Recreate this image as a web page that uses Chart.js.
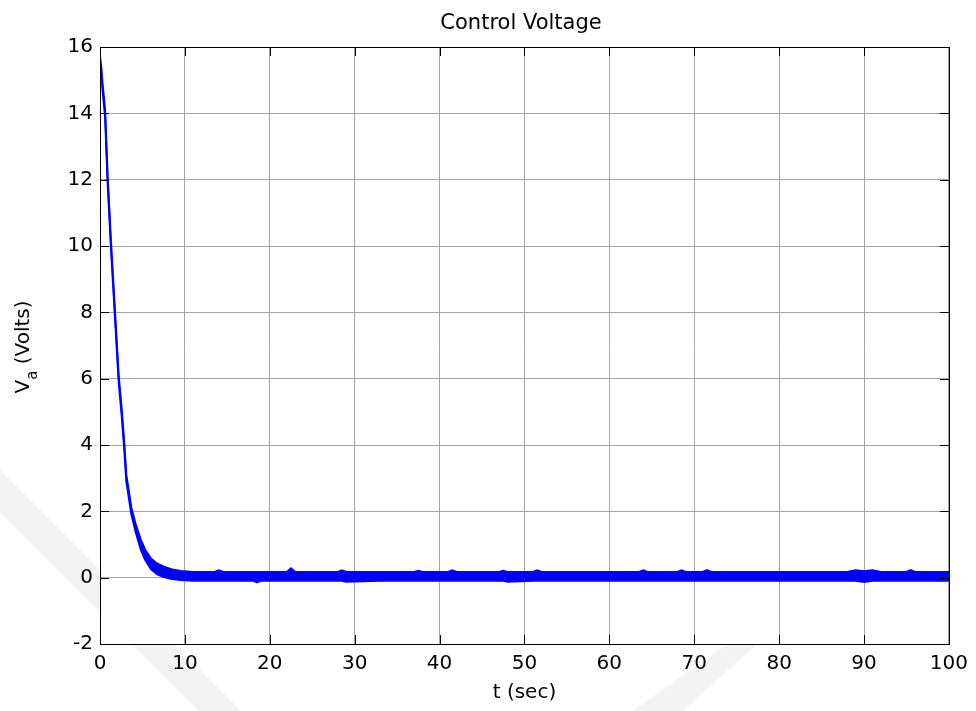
<!DOCTYPE html>
<html>
<head>
<meta charset="utf-8">
<script src="https://cdn.jsdelivr.net/npm/chart.js@4/dist/chart.umd.min.js"></script>
<style>
  html, body { margin:0; padding:0; background:#fff; }
  #wrap { width:976px; height:711px; }
</style>
</head>
<body>
<div id="wrap"><canvas id="voltageChart" width="976" height="711"></canvas></div>
<script>
// control voltage response, upper/lower edge of the plotted band
const timeSec = [
  0, 0.15, 0.3, 0.6, 0.9, 1.3, 1.75, 2.2, 2.55, 2.85,
  3.1, 3.7, 4.2, 4.8, 5.3, 6.0, 6.7, 7.5, 8.5, 9.5,
  11, 13.5, 14, 14.5, 17, 18, 18.5, 19, 22, 22.5,
  23, 26, 28, 28.5, 29, 33, 37, 37.5, 38, 41,
  41.5, 42, 47, 47.5, 48, 51, 51.5, 52, 57, 63.5,
  64, 64.5, 68, 68.5, 69, 71, 71.5, 72, 80, 88,
  89, 90, 91, 92, 95, 95.5, 96, 100
];
const upperVolts = [
  15.7, 15.4, 14.9, 14.1, 12.1, 10.1, 8.1, 6.1, 5.1, 4.1,
  3.1, 2.1, 1.62, 1.15, 0.85, 0.58, 0.43, 0.33, 0.25, 0.2,
  0.17, 0.17, 0.22, 0.17, 0.17, 0.17, 0.17, 0.17, 0.17, 0.28,
  0.17, 0.17, 0.17, 0.22, 0.17, 0.17, 0.17, 0.21, 0.17, 0.17,
  0.22, 0.17, 0.17, 0.21, 0.17, 0.17, 0.22, 0.17, 0.17, 0.17,
  0.22, 0.17, 0.17, 0.22, 0.17, 0.17, 0.23, 0.17, 0.17, 0.17,
  0.22, 0.19, 0.22, 0.17, 0.17, 0.23, 0.17, 0.17
];
const lowerVolts = [
  15.5, 15.2, 14.7, 13.9, 11.9, 9.9, 7.9, 5.9, 4.9, 3.9,
  2.9, 1.9, 1.38, 0.85, 0.55, 0.26, 0.11, 0.02, -0.04, -0.07,
  -0.09, -0.09, -0.09, -0.09, -0.09, -0.09, -0.14, -0.09, -0.09, -0.09,
  -0.09, -0.09, -0.09, -0.09, -0.12, -0.09, -0.09, -0.09, -0.09, -0.09,
  -0.09, -0.09, -0.09, -0.09, -0.12, -0.09, -0.09, -0.09, -0.09, -0.09,
  -0.09, -0.09, -0.09, -0.09, -0.09, -0.09, -0.09, -0.09, -0.09, -0.09,
  -0.09, -0.13, -0.09, -0.09, -0.09, -0.09, -0.09, -0.09
];
const xTicks = [0, 10, 20, 30, 40, 50, 60, 70, 80, 90, 100];
const yTicks = [-2, 0, 2, 4, 6, 8, 10, 12, 14, 16];

const FONT = '"DejaVu Sans", sans-serif';
const BLUE = '#0000ff';

// faint page stamp behind the figure, then a white axes box
const background = {
  id: 'background',
  beforeDraw(chart) {
    const ctx = chart.ctx, a = chart.chartArea;
    ctx.save();
    ctx.fillStyle = '#fff';
    ctx.fillRect(0, 0, chart.width, chart.height);
    ctx.fillStyle = '#f3f3f3';
    ctx.beginPath();
    ctx.moveTo(0, 470); ctx.lineTo(0, 512); ctx.lineTo(199, 711); ctx.lineTo(241, 711);
    ctx.closePath(); ctx.fill();
    ctx.beginPath();
    ctx.moveTo(633, 711); ctx.lineTo(683, 711); ctx.lineTo(757, 644); ctx.lineTo(727, 644);
    ctx.closePath(); ctx.fill();
    ctx.fillStyle = '#fff';
    ctx.fillRect(a.left, a.top, a.right - a.left, a.bottom - a.top);
    ctx.restore();
  }
};

// box, inward ticks on all four sides, titles
const frame = {
  id: 'frame',
  afterDraw(chart) {
    const ctx = chart.ctx, a = chart.chartArea;
    const xs = chart.scales.x, ys = chart.scales.y;
    const tl = 9;
    ctx.save();
    ctx.strokeStyle = '#000';
    ctx.lineWidth = 1;
    ctx.beginPath();
    xTicks.forEach(v => {
      const px = Math.round(xs.getPixelForValue(v)) + 0.5;
      ctx.moveTo(px, a.bottom); ctx.lineTo(px, a.bottom - tl);
      ctx.moveTo(px, a.top); ctx.lineTo(px, a.top + tl);
    });
    yTicks.forEach(v => {
      const py = Math.round(ys.getPixelForValue(v)) + 0.5;
      ctx.moveTo(a.left, py); ctx.lineTo(a.left + tl, py);
      ctx.moveTo(a.right, py); ctx.lineTo(a.right - tl, py);
    });
    ctx.stroke();
    ctx.strokeRect(Math.round(a.left) + 0.5, Math.round(a.top) + 0.5,
                   Math.round(a.right - a.left), Math.round(a.bottom - a.top));

    ctx.fillStyle = '#000';
    ctx.textAlign = 'center';
    ctx.textBaseline = 'alphabetic';
    ctx.font = '21px ' + FONT;
    ctx.fillText('Control Voltage', 521, 29);
    ctx.font = '20px ' + FONT;
    ctx.fillText('t (sec)', (a.left + a.right) / 2, 698);

    // V_a (Volts), rotated
    ctx.translate(29, 347);
    ctx.rotate(-Math.PI / 2);
    ctx.textAlign = 'left';
    ctx.font = '20px ' + FONT;
    const wV = ctx.measureText('V').width;
    const wRest = ctx.measureText(' (Volts)').width;
    ctx.font = '15px ' + FONT;
    const wA = ctx.measureText('a').width;
    const x0 = -(wV + wA + wRest) / 2;
    ctx.font = '20px ' + FONT;
    ctx.fillText('V', x0, 0);
    ctx.font = '15px ' + FONT;
    ctx.fillText('a', x0 + wV, 8);
    ctx.font = '20px ' + FONT;
    ctx.fillText(' (Volts)', x0 + wV + wA, 0);
    ctx.restore();
  }
};

const upperPts = timeSec.map((t, i) => ({ x: t, y: upperVolts[i] }));
const lowerPts = timeSec.map((t, i) => ({ x: t, y: lowerVolts[i] }));

new Chart(document.getElementById('voltageChart').getContext('2d'), {
  type: 'line',
  data: {
    datasets: [
      { data: upperPts, borderColor: BLUE, borderWidth: 2, pointRadius: 0, tension: 0, fill: false },
      { data: lowerPts, borderColor: BLUE, borderWidth: 2, pointRadius: 0, tension: 0,
        fill: '-1', backgroundColor: BLUE }
    ]
  },
  options: {
    responsive: false,
    animation: false,
    layout: { padding: { top: 47, right: 26, left: 0, bottom: 0 } },
    plugins: { legend: { display: false }, title: { display: false }, tooltip: { enabled: false } },
    scales: {
      x: {
        type: 'linear', min: 0, max: 100,
        afterFit: s => { s.height = 67; },
        afterBuildTicks: s => { s.ticks = xTicks.map(v => ({ value: v })); },
        ticks: { color: '#000', font: { family: FONT, size: 20 }, padding: 8, maxRotation: 0, autoSkip: false },
        grid: { color: '#a6a6a6', drawTicks: false },
        border: { display: false }
      },
      y: {
        type: 'linear', min: -2, max: 16,
        afterFit: s => { s.width = 100; },
        afterBuildTicks: s => { s.ticks = yTicks.map(v => ({ value: v })); },
        ticks: { color: '#000', font: { family: FONT, size: 20 }, padding: 7 },
        grid: { color: '#a6a6a6', drawTicks: false },
        border: { display: false }
      }
    }
  },
  plugins: [background, frame]
});
</script>
</body>
</html>
